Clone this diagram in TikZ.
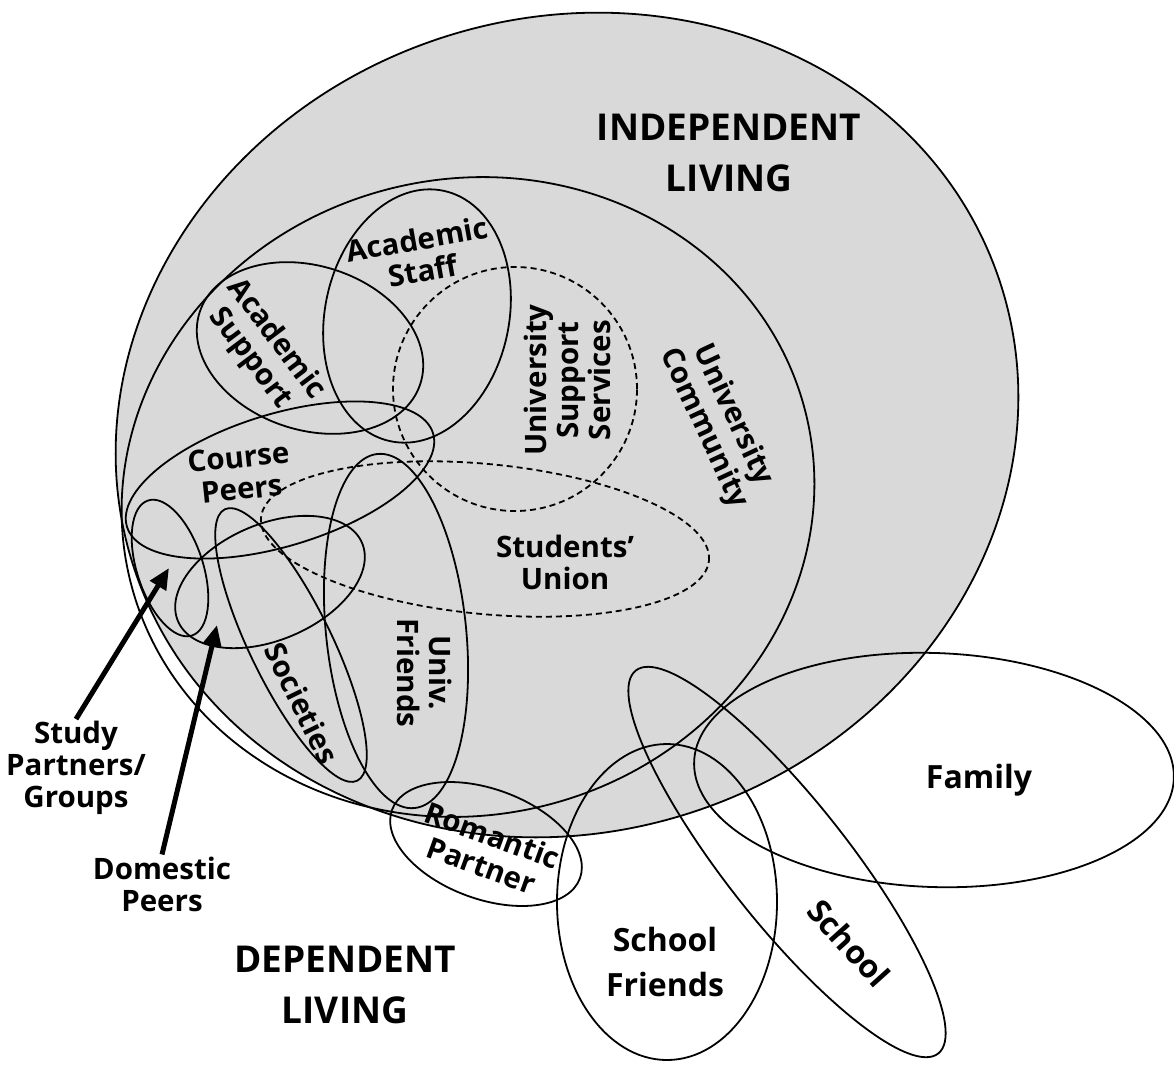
\documentclass[tikz,border=0pt]{standalone}
\usepackage{fontspec}
\setmainfont{Open Sans}
\usetikzlibrary{shapes.geometric,arrows.meta}
\definecolor{shade}{HTML}{D9D9D9}
\begin{document}
\begin{tikzpicture}[x=1pt,y=-1pt,
  oval/.style 2 args={ellipse, draw=black, line width=1.8pt, inner sep=0pt,
    minimum width=#1, minimum height=#2},
  dashoval/.style 2 args={oval={#1}{#2}, dash pattern=on 6pt off 4pt},
  lbl/.style={font=\fontsize{29.5}{32}\selectfont\bfseries, align=center, inner sep=2pt},
  homelbl/.style={font=\fontsize{32}{45}\selectfont\bfseries, align=center, inner sep=2pt},
  biglbl/.style={font=\fontsize{37}{51}\selectfont\bfseries, align=center},
  pointer/.style={line width=5pt, -{Triangle[length=21pt,width=18pt]}}]
\useasboundingbox (0,0) rectangle (1174,1066);

% independent living region
\node[oval={912}{814}, fill=shade, rotate=18.6] (indep) at (567,425) {};
% university community and its groups
\node[oval={696}{636}, rotate=14] (unicom) at (468,497) {};
\node[dashoval={244}{244}] (uss) at (515,389) {};
\node[dashoval={450}{150}, rotate=-5.5] (union) at (485,539) {};
\node[oval={184}{256}, rotate=-12] (staff) at (417,316) {};
\node[oval={232}{164}, rotate=-18] (acsup) at (310,348) {};
\node[oval={320}{132}, rotate=17] (course) at (280,480) {};
\node[oval={66}{142}, rotate=18] (study) at (170,568) {};
\node[oval={200}{116}, rotate=23] (domestic) at (270,582) {};
\node[oval={302}{82}, rotate=-64] (soc) at (291,645) {};
\node[oval={140}{356}, rotate=6] (ufriends) at (396,631) {};
% dependent living circles
\node[oval={200}{110}, rotate=-20] (romantic) at (486,844) {};
\node[oval={220}{316}] (sfriends) at (667,902) {};
\node[oval={488}{122}, rotate=-51.7] (school) at (787,862) {};
\node[oval={480}{234}, rotate=-2] (family) at (934,770) {};

% labels
\node[biglbl] (indeplbl) at (729,153) {INDEPENDENT\\LIVING};
\node[biglbl] (deplbl) at (345,985) {DEPENDENT\\LIVING};
\node[lbl, rotate=10] (stafflbl) at (420,255) {Academic\\Staff};
\node[lbl, rotate=-53] (acsuplbl) at (263,349) {Academic\\Support};
\node[lbl, rotate=6] (courselbl) at (240,473) {Course\\Peers};
\node[lbl, rotate=90] (usslbl) at (567,380) {University\\Support\\Services};
\node[lbl, rotate=-65] (unicomlbl) at (718,422) {University\\Community};
\node[lbl] (unionlbl) at (565,562) {Students’\\Union};
\node[lbl, rotate=-64] (soclbl) at (302,703) {Societies};
\node[lbl, rotate=-90] (ufriendslbl) at (425,673) {Univ.\\Friends};
\node[lbl, rotate=-20] (romanticlbl) at (487,850) {Romantic\\Partner};
\node[homelbl] (sfriendslbl) at (665,962) {School\\Friends};
\node[homelbl, rotate=-48] (schoollbl) at (849,943) {School};
\node[homelbl] (familylbl) at (979,780) {Family};
\node[lbl] (studylbl) at (76,768) {Study\\Partners/\\Groups};
\node[lbl] (domesticlbl) at (162,884) {Domestic\\Peers};

% pointers to the two small groups
\coordinate (studytip) at (169,568);
\coordinate (domestictip) at (217,625);
\draw[pointer] (studylbl.north) -- (studytip);
\draw[pointer] (domesticlbl.north) -- (domestictip);
\end{tikzpicture}
\end{document}
